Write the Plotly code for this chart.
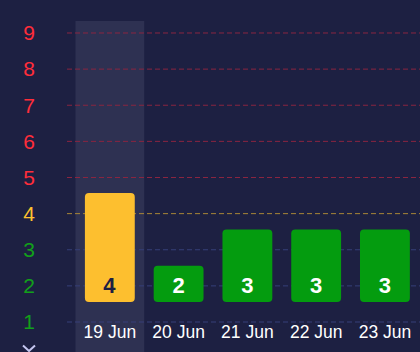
import plotly.graph_objects as go

# ---- data ----
dates = ["19 Jun", "20 Jun", "21 Jun", "22 Jun", "23 Jun"]
values = [4, 2, 3, 3, 3]
levels = [1, 2, 3, 4, 5, 6, 7, 8, 9]
level_colors = ["#12a01a", "#12a01a", "#12a01a", "#ffc22e",
                "#ff2d3a", "#ff2d3a", "#ff2d3a", "#ff2d3a", "#ff2d3a"]
grid_colors = ["#363f78", "#363f78", "#363f78", "#a88536",
               "#8a2540", "#8a2540", "#8a2540", "#8a2540", "#8a2540"]
bar_colors = ["#fdbf2f", "#049c0f", "#049c0f", "#049c0f", "#049c0f"]
text_colors = ["#1d2042", "#ffffff", "#ffffff", "#ffffff", "#ffffff"]
selected = 0

BG = "#1d2042"
W, H = 420, 352
L = 67

fig = go.Figure()
fig.add_trace(go.Bar(
    x=dates, y=[v - 1 for v in values], base=1,
    yaxis="y2",
    marker=dict(color=bar_colors, cornerradius=4, line=dict(width=0)),
    width=0.725,
    text=[str(v) for v in values],
    textposition="inside", insidetextanchor="start",
    textangle=0,
    textfont=dict(family="Liberation Sans, Arial, sans-serif", size=22,
                  color=text_colors, weight="bold"),
    hoverinfo="skip",
))

shapes = []
# selected column highlight
shapes.append(dict(type="rect", xref="x", yref="paper",
                   x0=selected - 0.5, x1=selected + 0.5, y0=0, y1=(H - 21) / H,
                   fillcolor="#2e3152", line=dict(width=0), layer="below"))
# coloured dashed grid lines
for lv, gc in zip(levels, grid_colors):
    shapes.append(dict(type="line", xref="paper", yref="y", x0=0, x1=1,
                       y0=lv, y1=lv, layer="below",
                       line=dict(color=gc, width=1, dash="5px,3px")))
# chevron
shapes.append(dict(type="path", xref="paper", yref="paper",
                   path="M %f %f L %f %f L %f %f" % (
                       (23 - L) / (W - L), (H - 345.5) / H,
                       (29 - L) / (W - L), (H - 351) / H,
                       (35 - L) / (W - L), (H - 345.5) / H),
                   line=dict(color="#c5c6f0", width=2)))

ticktext = ['<span style="color:%s">%d</span>' % (c, lv)
            for lv, c in zip(levels, level_colors)]

fig.update_layout(
    width=W, height=H,
    margin=dict(l=L, r=0, t=0, b=0),
    paper_bgcolor=BG, plot_bgcolor=BG,
    showlegend=False,
    bargap=0.275,
    shapes=shapes,
    font=dict(family="Liberation Sans, Arial, sans-serif"),
    xaxis=dict(
        range=[-0.623, 4.51], showgrid=False, zeroline=False, showline=False,
        anchor="free", position=0.091, ticks="",
        tickfont=dict(size=17.5, color="#ffffff"),
    ),
    yaxis=dict(
        range=[0.170, 9.913], showgrid=False, zeroline=False, showline=False,
        tickmode="array", tickvals=levels, ticktext=ticktext,
        tickfont=dict(size=21), ticks="", ticklabelstandoff=31,
    ),
    yaxis2=dict(
        overlaying="y", range=[-0.377, 9.32], visible=False,
    ),
)

fig.write_html("out.html")
